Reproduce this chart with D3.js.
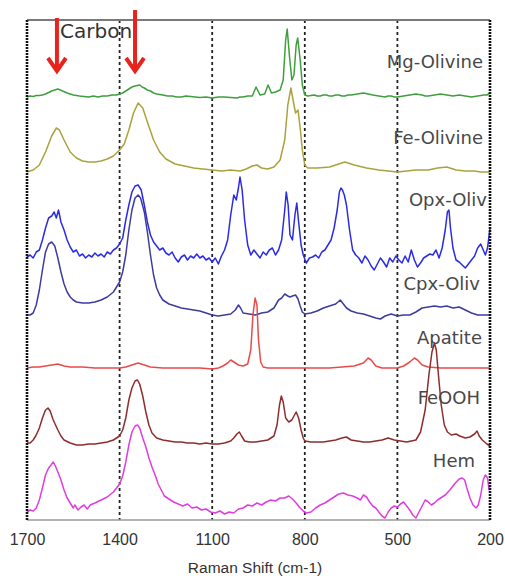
<!DOCTYPE html>
<html>
<head>
<meta charset="utf-8">
<script src="https://cdn.jsdelivr.net/npm/d3@7"></script>
<style>
  body { margin: 0; background: #fff; }
  svg { display: block; }
</style>
</head>
<body>
<div id="chart"></div>
<script>
// x ticks (Raman shift, cm-1)
var xTicks = [1700, 1400, 1100, 800, 500, 200];
var gridAt = [1400, 1100, 800, 500];
// carbon D and G bands marked with arrows
var carbonBands = [1603, 1350];

var names = ["Mg-Olivine", "Fe-Olivine", "Opx-Oliv", "Cpx-Oliv", "Apatite", "FeOOH", "Hem"];

// spectra, [shift, stacked intensity (a.u.)]
var mgOlivine = [[1700,423],[1690,424],[1680,423.5],[1670,424.5],[1660,424.5],[1650,425],[1640,426],[1630,427.5],[1620,429],[1610,430],[1600,431],[1592,430],[1585,429],[1570,427],[1560,426],[1550,425],[1540,424.5],[1530,424],[1515,423.5],[1500,423],[1485,424],[1470,423],[1455,424],[1440,424],[1425,425],[1410,425],[1400,426],[1390,427],[1380,429],[1370,431],[1360,433],[1350,434],[1335,435],[1327,433],[1320,432],[1310,430],[1300,429],[1290,427],[1280,426],[1270,425.5],[1260,425],[1245,424],[1230,424],[1215,423],[1200,423],[1185,424],[1170,423.5],[1155,423],[1140,422.5],[1120,423],[1100,422],[1080,423],[1060,423],[1040,422.5],[1020,422],[1010,423],[1000,423],[985,424],[970,424],[958,433],[945,425],[930,426],[919,435],[908,427],[895,428],[880,430],[870,440],[862,480],[857,491],[850,465],[842,440],[835,445],[828,475],[823,482],[815,460],[808,435],[800,425],[790,424],[780,424.5],[770,425],[760,424],[750,424],[740,425],[730,425],[720,424],[710,424],[700,425],[690,425],[680,424],[670,424],[660,425],[650,425],[640,425.5],[630,426],[620,426.5],[610,427],[595,426],[580,425],[570,424.5],[560,424],[550,423.5],[540,423],[530,424],[520,424],[510,423],[500,423],[490,423.5],[480,424],[470,424.5],[460,425],[450,425.5],[440,426],[430,425.5],[420,425],[410,424],[400,424],[390,424.5],[380,425],[370,425.5],[360,426],[350,425.5],[340,425],[330,424.5],[320,424],[310,424.5],[300,425],[290,424.5],[280,424],[270,423.5],[260,423],[250,423.5],[240,424],[230,424.5],[220,425],[210,425],[200,427]];

var feOlivine = [[1700,348],[1680,350],[1660,355],[1640,368],[1620,384],[1605,392],[1595,390],[1580,380],[1560,368],[1540,362],[1520,359],[1500,358],[1480,358],[1460,359],[1440,361],[1420,364],[1400,370],[1385,376],[1370,390],[1355,407],[1340,417],[1325,412],[1310,398],[1290,380],[1270,368],[1250,361],[1220,356],[1190,354],[1160,352],[1130,351],[1100,350],[1070,349],[1040,350],[1010,349],[990,351],[970,354],[955,355],[940,352],[920,351],[900,353],[880,360],[865,380],[855,415],[845,432],[838,420],[830,407],[822,410],[815,392],[808,370],[800,355],[790,352],[760,352],[720,353],[690,356],[670,358],[640,355],[600,352],[560,350],[530,349],[500,348],[470,349],[440,350],[400,350],[370,352],[340,353],[310,350],[280,349],[250,349],[230,348],[200,348]];

var opxOliv = [[1700,263],[1690,265],[1680,262],[1670,268],[1660,270],[1650,280],[1640,292],[1630,302],[1620,304],[1612,308],[1605,302],[1598,310],[1590,298],[1580,290],[1570,280],[1560,273],[1550,268],[1540,270],[1530,264],[1520,266],[1510,262],[1500,265],[1490,263],[1480,267],[1470,264],[1460,266],[1450,263],[1440,268],[1430,266],[1420,270],[1410,272],[1400,276],[1390,282],[1380,300],[1370,315],[1360,328],[1350,334],[1340,335],[1330,330],[1320,315],[1310,298],[1300,285],[1290,278],[1280,274],[1270,270],[1260,272],[1250,267],[1240,265],[1230,268],[1220,262],[1210,258],[1200,263],[1190,265],[1180,260],[1170,264],[1160,262],[1150,266],[1140,262],[1130,264],[1120,260],[1110,262],[1100,258],[1090,262],[1080,256],[1070,264],[1060,270],[1050,280],[1040,305],[1030,325],[1022,320],[1015,332],[1010,343],[1003,330],[995,300],[985,275],[975,265],[965,270],[955,266],[945,262],[935,268],[925,265],[915,270],[905,272],[895,265],[885,270],[875,280],[865,310],[860,328],[854,315],[848,285],[840,280],[832,305],[826,317],[820,298],[812,275],[805,265],[795,257],[785,262],[775,263],[765,265],[755,262],[745,268],[735,270],[725,275],[715,280],[705,292],[695,310],[688,328],[683,332],[678,330],[672,325],[665,315],[655,290],[645,270],[635,265],[625,262],[615,257],[605,264],[595,260],[585,254],[575,250],[565,256],[555,262],[545,258],[535,253],[525,262],[515,258],[505,264],[495,260],[485,257],[475,264],[465,258],[455,270],[445,260],[435,253],[425,257],[415,262],[405,264],[395,266],[385,265],[375,270],[365,262],[355,272],[345,290],[338,308],[333,310],[328,292],[320,272],[310,260],[300,258],[290,255],[280,252],[270,256],[260,260],[250,264],[240,272],[230,276],[222,270],[215,265],[208,272],[200,292]];

var cpxOliv = [[1700,205],[1690,205],[1680,207],[1670,215],[1660,230],[1650,250],[1640,268],[1630,276],[1620,278],[1610,274],[1600,262],[1590,248],[1580,236],[1570,228],[1560,223],[1550,220],[1540,218],[1520,217],[1500,217],[1480,218],[1460,220],[1440,223],[1420,228],[1400,238],[1390,248],[1380,265],[1370,290],[1360,310],[1350,322],[1340,325],[1332,322],[1320,308],[1310,288],[1300,265],[1290,245],[1280,232],[1270,225],[1260,220],[1240,216],[1220,214],[1200,212],[1180,211],[1160,210],[1140,209],[1120,207],[1100,205],[1080,204],[1060,205],[1040,206],[1025,210],[1015,215],[1008,212],[1000,207],[980,206],[960,205],[940,207],[920,208],[900,212],[885,220],[875,222],[865,226],[855,224],[848,223],[840,224],[830,225],[822,221],[815,214],[808,208],[800,206],[780,207],[760,209],[740,212],[720,214],[700,216],[685,220],[675,216],[665,212],[650,209],[630,207],[610,206],[590,204],[570,202],[555,201],[540,204],[520,206],[500,204],[480,205],[460,205],[440,208],[420,212],[400,213],[380,214],[360,213],[340,214],[320,212],[300,213],[280,210],[260,207],[240,205],[220,205],[200,205]];

var apatite = [[1700,152],[1680,153],[1660,153],[1640,154],[1620,155],[1600,156],[1580,154],[1560,153],[1520,153],[1480,152],[1440,152],[1400,152],[1380,153],[1360,155],[1340,157],[1320,155],[1300,153],[1260,152],[1220,152],[1180,152],[1140,152],[1100,151],[1080,152],[1065,154],[1050,157],[1040,160],[1030,158],[1015,155],[1000,154],[985,156],[975,170],[968,205],[961,222],[955,215],[950,180],[943,158],[935,153],[920,152],[880,152],[840,152],[800,152],[760,152],[720,152],[680,153],[640,154],[610,157],[595,162],[585,160],[570,154],[550,152],[520,152],[500,152],[480,154],[460,158],[445,162],[435,160],[420,155],[400,153],[360,152],[320,152],[280,152],[240,152],[200,152]];

var feooh = [[1700,77],[1690,77],[1680,80],[1670,85],[1660,92],[1650,102],[1640,110],[1632,112],[1625,109],[1615,100],[1600,90],[1590,84],[1580,80],[1560,77],[1540,75],[1520,75],[1500,76],[1480,76],[1460,77],[1440,78],[1420,80],[1400,84],[1390,90],[1380,102],[1370,120],[1360,132],[1350,139],[1342,140],[1335,136],[1325,124],[1315,108],[1305,95],[1295,87],[1280,82],[1260,80],[1240,79],[1220,78],[1200,78],[1180,77],[1160,77],[1140,76],[1120,77],[1100,76],[1080,76],[1060,77],[1040,79],[1030,82],[1020,86],[1012,88],[1005,84],[995,79],[980,78],[960,78],[940,79],[920,80],[900,84],[890,95],[882,115],[876,124],[870,118],[862,102],[852,98],[842,100],[835,104],[828,108],[820,102],[812,90],[805,82],[800,79],[780,78],[760,78],[740,78],[720,79],[700,80],[680,82],[665,83],[650,80],[630,79],[610,78],[590,78],[570,79],[550,80],[530,82],[510,80],[490,79],[470,78],[455,79],[440,80],[425,88],[410,110],[398,145],[388,168],[380,177],[374,170],[367,145],[358,115],[348,95],[338,88],[325,85],[310,86],[298,84],[280,82],[265,83],[250,86],[242,89],[235,84],[225,80],[210,76],[200,74]];

var hem = [[1700,8],[1690,10],[1680,9],[1670,12],[1660,20],[1650,32],[1640,45],[1630,52],[1622,55],[1615,58],[1608,54],[1600,48],[1590,40],[1580,30],[1570,22],[1560,17],[1550,12],[1545,15],[1535,10],[1525,13],[1515,15],[1505,11],[1495,15],[1480,17],[1460,20],[1440,23],[1420,28],[1400,36],[1390,44],[1380,58],[1370,75],[1360,88],[1350,94],[1342,95],[1335,92],[1325,82],[1315,73],[1305,62],[1295,53],[1285,45],[1275,36],[1265,30],[1255,24],[1240,21],[1225,18],[1210,16],[1195,14],[1180,16],[1165,12],[1150,13],[1135,10],[1120,11],[1105,8],[1090,7],[1075,9],[1060,6],[1045,8],[1030,7],[1015,11],[1000,12],[985,15],[970,14],[955,17],[940,15],[925,18],[910,20],[895,19],[880,22],[865,22],[852,24],[840,21],[828,17],[815,12],[805,9],[795,7],[780,8],[765,12],[750,15],[735,17],[720,20],[705,23],[690,26],[675,27],[660,25],[645,24],[630,22],[620,20],[610,25],[600,23],[590,18],[580,14],[570,12],[560,8],[550,4],[540,2],[530,8],[520,12],[510,14],[500,13],[490,16],[480,18],[470,14],[460,10],[450,5],[440,2],[430,8],[420,14],[410,20],[400,18],[390,15],[380,17],[370,20],[360,22],[345,25],[330,30],[315,36],[300,41],[290,42],[282,40],[275,32],[265,22],[255,15],[245,12],[238,15],[230,25],[222,40],[215,45],[208,42],[203,30],[200,35]];

var spectra = [mgOlivine, feOlivine, opxOliv, cpxOliv, apatite, feooh, hem];
var colors = ["#3f9f3f", "#aaa23c", "#2b2be6", "#3c3c9e", "#e94a4a", "#8f2d2d", "#de3ede"];
// label heights (same units as intensity)
var labelLevel = [458, 382, 320, 236, 182, 122, 59];
var labelInset = [7, 7, 3, 10, 8, 10, 15];

var width = 505,
    height = 576;

var svg = d3.select("#chart").append("svg")
    .attr("width", width)
    .attr("height", height);

var x = d3.scaleLinear().domain([1700, 200]).range([27, 490]);
var y = d3.scaleLinear().domain([0, 500]).range([520, 20]);

var line = d3.line()
    .x(function(d) { return x(d[0]); })
    .y(function(d) { return y(d[1]); });

// dotted grid lines
svg.append("g").selectAll("line")
    .data(gridAt)
  .enter().append("line")
    .attr("x1", function(d) { return x(d); })
    .attr("x2", function(d) { return x(d); })
    .attr("y1", y(500))
    .attr("y2", y(0))
    .style("stroke", "#222")
    .style("stroke-width", 1.8)
    .style("stroke-dasharray", "3,3");

// spectra
svg.append("g").selectAll("path")
    .data(spectra)
  .enter().append("path")
    .attr("d", line)
    .style("fill", "none")
    .style("stroke", function(d, i) { return colors[i]; })
    .style("stroke-width", 1.5)
    .style("stroke-linejoin", "round");

// frame
svg.append("line")
    .attr("x1", x(1700)).attr("x2", x(200))
    .attr("y1", y(500)).attr("y2", y(500))
    .style("stroke", "#7a7a7a").style("stroke-width", 2);
svg.append("line")
    .attr("x1", x(1700)).attr("x2", x(200))
    .attr("y1", y(0)).attr("y2", y(0))
    .style("stroke", "#9a9a9a").style("stroke-width", 1.5);
svg.append("g").selectAll("line")
    .data([1700, 200])
  .enter().append("line")
    .attr("x1", function(d) { return x(d); })
    .attr("x2", function(d) { return x(d); })
    .attr("y1", y(500))
    .attr("y2", y(0))
    .style("stroke", "#111")
    .style("stroke-width", 2.6)
    .style("stroke-dasharray", "2,1");

// x axis labels
var xAxis = d3.axisBottom(x)
    .tickValues(xTicks)
    .tickSize(0)
    .tickPadding(14)
    .tickFormat(d3.format("d"));

var ax = svg.append("g")
    .attr("transform", "translate(0," + y(0) + ")")
    .call(xAxis);
ax.select(".domain").remove();
ax.selectAll("text")
    .style("font-family", "Liberation Sans, Arial, sans-serif")
    .style("font-size", "16px")
    .style("fill", "#333");

svg.append("text")
    .attr("x", 255)
    .attr("y", 573)
    .attr("text-anchor", "middle")
    .style("font-family", "Liberation Sans, Arial, sans-serif")
    .style("font-size", "15.5px")
    .style("fill", "#333")
    .text("Raman Shift (cm-1)");

// spectrum names
svg.append("g").selectAll("text")
    .data(names)
  .enter().append("text")
    .attr("x", function(d, i) { return x(200) - labelInset[i]; })
    .attr("y", function(d, i) { return y(labelLevel[i]); })
    .attr("dy", "0.36em")
    .attr("text-anchor", "end")
    .style("font-family", "DejaVu Sans, sans-serif")
    .style("font-size", "18px")
    .style("fill", "#484848")
    .text(function(d) { return d; });

// carbon band arrows
svg.append("text")
    .attr("x", 60)
    .attr("y", 38)
    .style("font-family", "DejaVu Sans, sans-serif")
    .style("font-size", "20px")
    .style("fill", "#333")
    .text("Carbon");

var arrowTop = [502, 510];
var arrows = svg.append("g").selectAll("g")
    .data(carbonBands)
  .enter().append("g");

arrows.append("line")
    .attr("x1", function(d) { return x(d); })
    .attr("x2", function(d) { return x(d); })
    .attr("y1", function(d, i) { return y(arrowTop[i]); })
    .attr("y2", y(450))
    .style("stroke", "#e8231c")
    .style("stroke-width", 4);

arrows.append("path")
    .attr("d", function(d) {
      var cx = x(d), cy = y(449);
      return "M" + (cx - 9) + "," + (cy - 13) + "L" + cx + "," + cy + "L" + (cx + 9) + "," + (cy - 13);
    })
    .style("fill", "none")
    .style("stroke", "#e8231c")
    .style("stroke-width", 4)
    .style("stroke-linejoin", "miter");
</script>
</body>
</html>
